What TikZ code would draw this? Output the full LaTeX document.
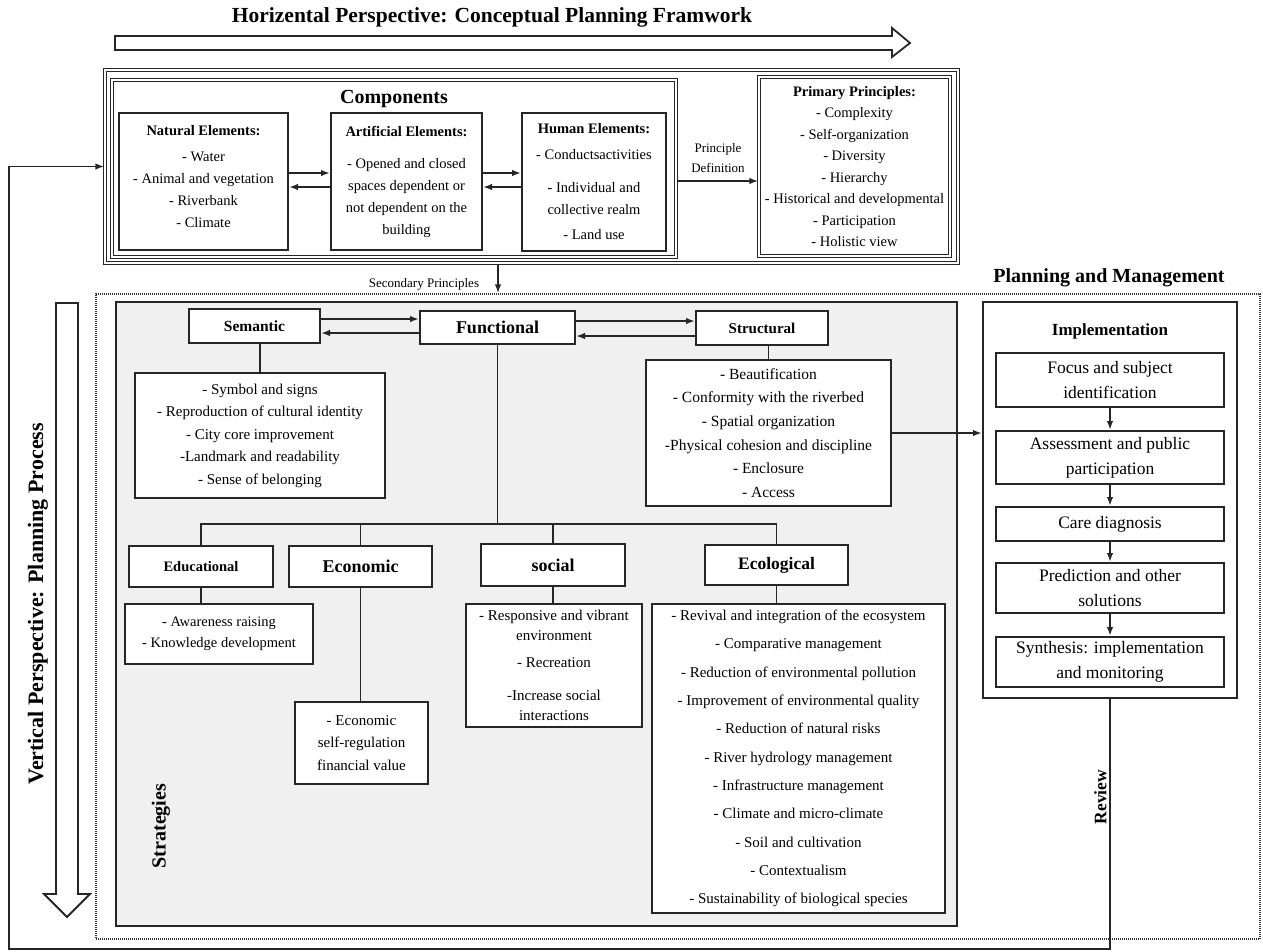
\documentclass[tikz,border=0pt]{standalone}
\usepackage{fontspec}
\setmainfont{Liberation Serif}
\usetikzlibrary{arrows.meta, calc}

\begin{document}
\begin{tikzpicture}[x=1pt, y=-1pt,
    >={Latex[length=9pt, width=6.5pt]},
    boxed/.style={draw=black!85, line width=2pt, fill=white, align=center, inner sep=1pt},
    dbl/.style={boxed, double=white, double distance=1.3pt, line width=1.2pt},
    heading/.style={boxed, font=\bfseries\fontsize{17}{20}\selectfont},
    items/.style={boxed, font=\fontsize{15}{22.5}\selectfont},
    topitems/.style={boxed, font=\fontsize{14.5}{22}\selectfont},
    stage/.style={boxed, font=\fontsize{17.5}{25}\selectfont, minimum width=228pt},
    conn/.style={draw=black!85, line width=1.9pt},
    hollow/.style={draw=black!85, line width=1.8pt, fill=white}]
  \useasboundingbox (0,0) rectangle (1263,951);

  % horizontal axis
  \node[font=\bfseries\fontsize{21.5}{24}\selectfont] (htitle) at (492,17)
    {Horizental Perspective: Conceptual Planning Framwork};
  \draw[hollow] (115,36) -- (892,36) -- (892,28) -- (910,43) -- (892,57)
    -- (892,50) -- (115,50) -- cycle;

  % components and primary principles
  \node[dbl, minimum width=853pt, minimum height=193pt] (outer) at (531.5,166.5) {};
  \node[dbl, minimum width=564pt, minimum height=177pt] (comp) at (394,168.5) {};
  \node[font=\bfseries\fontsize{20}{24}\selectfont] (comptitle) at (394,99) {Components};
  \node[topitems, minimum width=169pt, minimum height=137pt] (natural) at (203.5,181.5)
    {\textbf{Natural Elements:}\\[4pt] - Water\\ - Animal and vegetation\\ - Riverbank\\
     - Climate\\[-12pt]\mbox{}};
  \node[topitems, minimum width=151pt, minimum height=137pt] (artificial) at (406.5,181.5)
    {\textbf{Artificial Elements:}\\[10pt] - Opened and closed\\ spaces dependent or\\
     not dependent on the\\ building};
  \node[topitems, minimum width=144pt, minimum height=138pt] (human) at (594,181.5)
    {\textbf{Human Elements:}\\[4pt] - Conductsactivities\\[11pt] - Individual and\\
     collective realm\\[3pt] - Land use};
  \node[dbl, font=\fontsize{14.5}{21.5}\selectfont, minimum width=191pt, minimum height=179pt]
    (primary) at (854.5,166.5)
    {\textbf{Primary Principles:}\\ - Complexity\\ - Self-organization\\ - Diversity\\
     - Hierarchy\\ - Historical and developmental\\ - Participation\\ - Holistic view};
  \node[font=\fontsize{13}{20}\selectfont, align=center] (pdef) at (718,158) {Principle\\ Definition};

  \draw[conn, ->] (natural.east |- 0,173) -- (artificial.west |- 0,173);
  \draw[conn, ->] (artificial.west |- 0,187) -- (natural.east |- 0,187);
  \draw[conn, ->] (artificial.east |- 0,173) -- (human.west |- 0,173);
  \draw[conn, ->] (human.west |- 0,187) -- (artificial.east |- 0,187);
  \draw[conn, ->] (comp.east |- 0,181) -- (primary.west |- 0,181);

  % planning and management frame
  \node[draw=black!80, line width=1.2pt, dash pattern=on 1pt off 1pt,
    minimum width=1164pt, minimum height=645pt] (plan) at (678,616.5) {};
  \node[font=\bfseries\fontsize{20}{22}\selectfont] (pmtitle) at (1109,278) {Planning and Management};
  \node[font=\fontsize{13}{16}\selectfont] (sec) at (424,284) {Secondary Principles};
  \draw[conn, ->] (outer.south -| 498,0) -- (plan.north -| 498,0);

  % vertical axis
  \draw[hollow] (56,303) -- (78,303) -- (78,894) -- (90,894) -- (67,917)
    -- (44,894) -- (56,894) -- cycle;
  \node[rotate=90, font=\bfseries\fontsize{22}{24}\selectfont] (vtitle) at (38,604)
    {Vertical Perspective: Planning Process};

  % strategies
  \node[draw=black!85, line width=2pt, fill=black!6, minimum width=841pt,
    minimum height=624pt] (strat) at (536.5,614) {};
  \node[rotate=90, font=\bfseries\fontsize{20}{24}\selectfont] (stratlbl) at (161,826) {Strategies};

  \node[heading, font=\bfseries\fontsize{15.5}{18}\selectfont, minimum width=131pt,
    minimum height=34pt] (semantic) at (254.5,326) {Semantic};
  \node[heading, font=\bfseries\fontsize{18}{20}\selectfont, minimum width=155pt,
    minimum height=33pt] (functional) at (497.5,327.5) {Functional};
  \node[heading, font=\bfseries\fontsize{15}{18}\selectfont, minimum width=132pt,
    minimum height=34pt] (structural) at (762,328) {Structural};
  \draw[conn, ->] (semantic.east |- 0,319) -- (functional.west |- 0,319);
  \draw[conn, ->] (functional.west |- 0,333) -- (semantic.east |- 0,333);
  \draw[conn, ->] (functional.east |- 0,321) -- (structural.west |- 0,321);
  \draw[conn, ->] (structural.west |- 0,336) -- (functional.east |- 0,336);

  \node[items, minimum width=250pt, minimum height=125pt] (semlist) at (260,435.5)
    {- Symbol and signs\\ - Reproduction of cultural identity\\ - City core improvement\\
     -Landmark and readability\\ - Sense of belonging};
  \draw[conn] (semantic.south -| semlist.north) -- (semlist.north);
  \node[items, font=\fontsize{15.5}{23.6}\selectfont, minimum width=245pt, minimum height=146pt]
    (strlist) at (768.5,433)
    {- Beautification\\ - Conformity with the riverbed\\ - Spatial organization\\
     -Physical cohesion and discipline\\ - Enclosure\\ - Access};
  \draw[conn] (structural.south -| strlist.north) -- (strlist.north);

  % second row of the tree
  \node[heading, font=\bfseries\fontsize{14.5}{18}\selectfont, minimum width=144pt,
    minimum height=41pt] (educational) at (201,566.5) {Educational};
  \node[heading, font=\bfseries\fontsize{18}{20}\selectfont, minimum width=143pt,
    minimum height=41pt] (economic) at (360.5,566.5) {Economic};
  \node[heading, font=\bfseries\fontsize{18}{20}\selectfont, minimum width=144pt,
    minimum height=42pt] (social) at (553,565) {social};
  \node[heading, font=\bfseries\fontsize{17.5}{20}\selectfont, minimum width=143pt,
    minimum height=40pt] (ecological) at (776.5,565) {Ecological};
  \coordinate (bar) at (497.5,524);
  \draw[conn] (functional.south) -- (bar);
  \foreach \n in {educational, economic, social, ecological}
    \draw[conn] (bar) -| (\n.north);

  \node[items, font=\fontsize{14.5}{21}\selectfont, minimum width=188pt, minimum height=60pt]
    (edulist) at (219,634) {- Awareness raising\\ - Knowledge development};
  \draw[conn] (educational.south) -- (educational.south |- edulist.north);
  \node[items, minimum width=133pt, minimum height=82pt] (econlist) at (361.5,743)
    {- Economic\\ self-regulation\\ financial value};
  \draw[conn] (economic.south) -- (economic.south |- econlist.north);
  \node[items, font=\fontsize{15}{20}\selectfont, minimum width=176pt, minimum height=123pt]
    (soclist) at (554,665.5)
    {- Responsive and vibrant\\ environment\\[7pt] - Recreation\\[13pt]
     -Increase social\\ interactions};
  \draw[conn] (social.south) -- (social.south |- soclist.north);
  \node[items, font=\fontsize{15}{28.3}\selectfont, minimum width=293pt, minimum height=309pt]
    (ecolist) at (798.5,758.5)
    {- Revival and integration of the ecosystem\\ - Comparative management\\
     - Reduction of environmental pollution\\ - Improvement of environmental quality\\
     - Reduction of natural risks\\ - River hydrology management\\
     - Infrastructure management\\ - Climate and micro-climate\\
     - Soil and cultivation\\ - Contextualism\\ - Sustainability of biological species};
  \draw[conn] (ecological.south) -- (ecological.south |- ecolist.north);

  % implementation column
  \node[boxed, minimum width=254pt, minimum height=396pt] (impl) at (1110,500) {};
  \node[font=\bfseries\fontsize{17}{20}\selectfont] (impltitle) at (1110,331) {Implementation};
  \node[stage, minimum height=54pt] (focus) at (1110,380) {Focus and subject\\ identification};
  \node[stage, minimum height=53pt] (assess) at (1110,457.5) {Assessment and public\\ participation};
  \node[stage, minimum height=34pt] (care) at (1110,524) {Care diagnosis};
  \node[stage, minimum height=50pt] (predict) at (1110,588) {Prediction and other\\ solutions};
  \node[stage, minimum height=50pt] (synth) at (1110,662) {Synthesis: implementation\\ and monitoring};
  \foreach \a/\b in {focus/assess, assess/care, care/predict, predict/synth}
    \draw[conn, ->] (\a) -- (\b);
  \draw[conn, ->] (strlist.east) -- (strlist.east -| impl.west);

  % review loop back to the components
  \node[rotate=90, anchor=south, font=\bfseries\fontsize{17.5}{20}\selectfont] (review)
    at (1110,797) {Review};
  \coordinate (corner) at (9,949);
  \draw[conn, ->] (impl.south) |- (corner) |- (outer.west);
\end{tikzpicture}
\end{document}
